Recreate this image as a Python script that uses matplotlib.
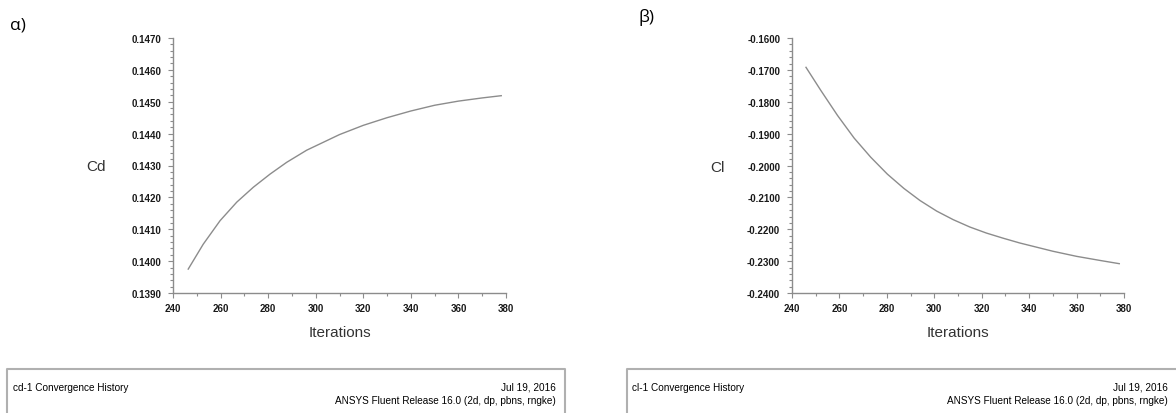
# Cd / Cl convergence history (ANSYS Fluent style)
import matplotlib.pyplot as plt
from matplotlib.ticker import MultipleLocator, FormatStrFormatter
from matplotlib.lines import Line2D

iters_cd = [246.4, 252.7, 259.8, 266.8, 273.8, 280.8, 287.8, 296.2, 310, 320,
            330, 340, 350, 360, 370, 378]
cd = [0.13975, 0.14053, 0.14127, 0.14185, 0.14232, 0.14273, 0.14310, 0.14348,
      0.14397, 0.14426, 0.14450, 0.14471, 0.14489, 0.14502, 0.14512, 0.14519]

iters_cl = [245.9, 252.2, 259.2, 266.2, 273.2, 280.2, 287.2, 294, 301, 308, 315,
            322, 329, 336, 343, 350, 360, 370, 378]
cl = [-0.1692, -0.1765, -0.1843, -0.1914, -0.1974, -0.2027, -0.2072, -0.2110,
      -0.2143, -0.2170, -0.2193, -0.2212, -0.2228, -0.2243, -0.2256, -0.2269,
      -0.2285, -0.2298, -0.2308]

cd_ticks = [0.139, 0.140, 0.141, 0.142, 0.143, 0.144, 0.145, 0.146, 0.147]
cl_ticks = [-0.24, -0.23, -0.22, -0.21, -0.20, -0.19, -0.18, -0.17, -0.16]

W, H = 1176, 414
plt.rcParams['font.family'] = ['Liberation Sans', 'DejaVu Sans']
fig = plt.figure(figsize=(W / 100, H / 100), dpi=100)

gray = '#8c8c8c'


def px(x0, y0, x1, y1):
    return [x0 / W, 1 - y1 / H, (x1 - x0) / W, (y1 - y0) / H]


def setup(ax, yticks, minor):
    ax.set_xlim(240, 380)
    ax.set_ylim(yticks[0], yticks[-1])
    ax.xaxis.set_major_locator(MultipleLocator(20))
    ax.xaxis.set_minor_locator(MultipleLocator(10))
    ax.set_yticks(yticks)
    ax.yaxis.set_minor_locator(MultipleLocator(minor))
    ax.yaxis.set_major_formatter(FormatStrFormatter('%.4f'))
    for s in ['top', 'right']:
        ax.spines[s].set_visible(False)
    for s in ['left', 'bottom']:
        ax.spines[s].set_color(gray)
        ax.spines[s].set_linewidth(1.0)
    ax.tick_params(which='major', length=3.5, width=0.8, color=gray,
                   labelsize=7, labelcolor='#1a1a1a')
    ax.tick_params(which='minor', length=2, width=0.8, color=gray)
    ax.tick_params(axis='x', pad=4)
    ax.tick_params(axis='y', pad=5)
    for lab in ax.get_xticklabels() + ax.get_yticklabels():
        lab.set_fontweight('bold')
    ax.set_xlabel('Iterations', fontsize=11, color='#333333', labelpad=8)


ax1 = fig.add_axes(px(173, 39, 506, 294))
ax1.plot(iters_cd, cd, color=gray, lw=1.0)
setup(ax1, cd_ticks, 0.0002)

ax2 = fig.add_axes(px(792, 39, 1124, 294))
ax2.plot(iters_cl, cl, color=gray, lw=1.0)
setup(ax2, cl_ticks, 0.002)

fig.text(96 / W, 1 - 167 / H, 'Cd', fontsize=11, color='#333333', ha='center', va='center')
fig.text(717 / W, 1 - 168 / H, 'Cl', fontsize=11, color='#333333', ha='center', va='center')

fig.text(10 / W, 1 - 25 / H, 'α)', fontsize=12.5, family=['Open Sans', 'DejaVu Sans'],
         ha='left', va='center')
fig.text(638 / W, 1 - 18 / H, 'β)', fontsize=12.5, family=['Open Sans', 'DejaVu Sans'],
         ha='left', va='center')

# footer boxes
bc = '#b0b0b0'
for x0, x1 in [(7, 565), (627, 1180)]:
    xs = [x0 / W, x0 / W, x1 / W, x1 / W]
    ys = [-0.05, 1 - 370 / H, 1 - 370 / H, -0.05]
    fig.add_artist(Line2D(xs, ys, color=bc, lw=1.5, transform=fig.transFigure))

fs = 7.2
fig.text(13 / W, 1 - 388 / H, 'cd-1 Convergence History', fontsize=fs, va='center')
fig.text(556 / W, 1 - 388 / H, 'Jul 19, 2016', fontsize=fs, va='center', ha='right')
fig.text(556 / W, 1 - 401 / H, 'ANSYS Fluent Release 16.0 (2d, dp, pbns, rngke)',
         fontsize=fs, va='center', ha='right')

fig.text(632 / W, 1 - 388 / H, 'cl-1 Convergence History', fontsize=fs, va='center')
fig.text(1168 / W, 1 - 388 / H, 'Jul 19, 2016', fontsize=fs, va='center', ha='right')
fig.text(1168 / W, 1 - 401 / H, 'ANSYS Fluent Release 16.0 (2d, dp, pbns, rngke)',
         fontsize=fs, va='center', ha='right')

fig.savefig('out.png', dpi=100)
